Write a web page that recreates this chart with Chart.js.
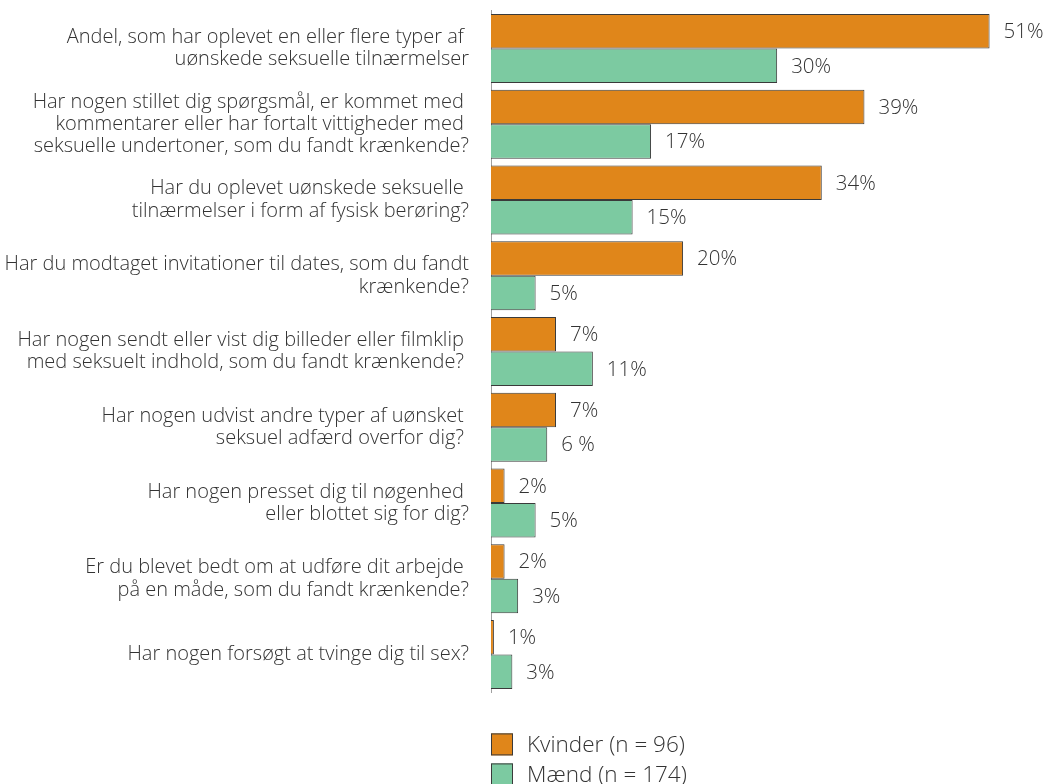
<!DOCTYPE html>
<html>
<head>
<meta charset="utf-8">
<script src="https://cdn.jsdelivr.net/npm/chart.js@4"></script>
<style>
  html, body { margin: 0; padding: 0; background: #ffffff; }
  #c { display: block; }
</style>
</head>
<body>
<canvas id="c" width="1045" height="784"></canvas>
<script>
// ---- DATA ----
const categories = [
  ['Andel, som har oplevet en eller flere typer af ', 'uønskede seksuelle tilnærmelser'],
  ['Har nogen stillet dig spørgsmål, er kommet med ', 'kommentarer eller har fortalt vittigheder med ', 'seksuelle undertoner, som du fandt krænkende?'],
  ['Har du oplevet uønskede seksuelle ', 'tilnærmelser i form af fysisk berøring?'],
  ['Har du modtaget invitationer til dates, som du fandt', 'krænkende?'],
  ['Har nogen sendt eller vist dig billeder eller filmklip ', 'med seksuelt indhold, som du fandt krænkende? '],
  ['Har nogen udvist andre typer af uønsket ', 'seksuel adfærd overfor dig? '],
  ['Har nogen presset dig til nøgenhed ', 'eller blottet sig for dig?'],
  ['Er du blevet bedt om at udføre dit arbejde ', 'på en måde, som du fandt krænkende?'],
  'Har nogen forsøgt at tvinge dig til sex?'
];
const seriesNames = ['Kvinder (n = 96)', 'Mænd (n = 174)'];
const kvinder = [51.4, 38.5, 34.1, 19.8, 6.7, 6.7, 1.4, 1.4, 0.3];
const maend   = [29.5, 16.5, 14.6, 4.6, 10.5, 5.8, 4.6, 2.8, 2.2];
const kvinderLabels = ['51%', '39%', '34%', '20%', '7%', '7%', '2%', '2%', '1%'];
const maendLabels   = ['30%', '17%', '15%', '5%', '11%', '6 %', '5%', '3%', '3%'];
const valueLabels = [kvinderLabels, maendLabels];

const ORANGE = '#E0861A';
const GREEN = '#7CCAA1';
const BORDER = '#3a3a3a';
const TEXT = '#333333';
const FONT = '"Open Sans"';

const valueLabelPlugin = {
  id: 'valueLabels',
  afterDatasetsDraw(chart) {
    const ctx = chart.ctx;
    ctx.save();
    ctx.font = '300 20.5px ' + FONT;
    ctx.fillStyle = TEXT;
    ctx.textAlign = 'left';
    ctx.textBaseline = 'middle';
    chart.data.datasets.forEach((ds, di) => {
      const meta = chart.getDatasetMeta(di);
      meta.data.forEach((el, i) => {
        ctx.fillText(valueLabels[di][i], el.x + 14, el.y + 1);
      });
    });
    ctx.restore();
  }
};

const legendPlugin = {
  id: 'stackedLegend',
  afterDraw(chart) {
    const ctx = chart.ctx;
    const area = chart.chartArea;
    ctx.save();
    ctx.font = '300 22.5px ' + FONT;
    ctx.textAlign = 'left';
    ctx.textBaseline = 'middle';
    chart.data.datasets.forEach((ds, di) => {
      const x = area.left;
      const y = area.bottom + 41 + di * 30;
      ctx.fillStyle = ds.backgroundColor;
      ctx.fillRect(x, y, 22, 22);
      ctx.strokeStyle = BORDER;
      ctx.lineWidth = 1;
      ctx.strokeRect(x + 0.5, y + 0.5, 21, 21);
      ctx.fillStyle = TEXT;
      ctx.fillText(ds.label, x + 36, y + 12);
    });
    ctx.restore();
  }
};

new Chart(document.getElementById('c'), {
  type: 'bar',
  data: {
    labels: categories,
    datasets: [
      {
        label: seriesNames[0],
        data: kvinder,
        backgroundColor: ORANGE,
        borderColor: BORDER,
        borderWidth: 1,
        categoryPercentage: 0.91,
        barPercentage: 1.0
      },
      {
        label: seriesNames[1],
        data: maend,
        backgroundColor: GREEN,
        borderColor: BORDER,
        borderWidth: 1,
        categoryPercentage: 0.91,
        barPercentage: 1.0
      }
    ]
  },
  options: {
    indexAxis: 'y',
    responsive: false,
    animation: false,
    layout: { padding: { top: 10.6, bottom: 91.6, left: 0, right: 10.8 } },
    plugins: {
      legend: { display: false },
      tooltip: { enabled: false }
    },
    scales: {
      x: {
        display: false,
        min: 0,
        max: 56
      },
      y: {
        grid: { display: false, drawTicks: false },
        border: { display: true, color: '#a0a0a0', width: 1 },
        ticks: {
          color: TEXT,
          padding: 22,
          font: { family: FONT, size: 20, weight: 300, lineHeight: 1.12 }
        },
        afterFit(scale) {
          scale.width = 491;
          scale.paddingTop = 0;
          scale.paddingBottom = 0;
        }
      }
    }
  },
  plugins: [valueLabelPlugin, legendPlugin]
});
</script>
</body>
</html>
